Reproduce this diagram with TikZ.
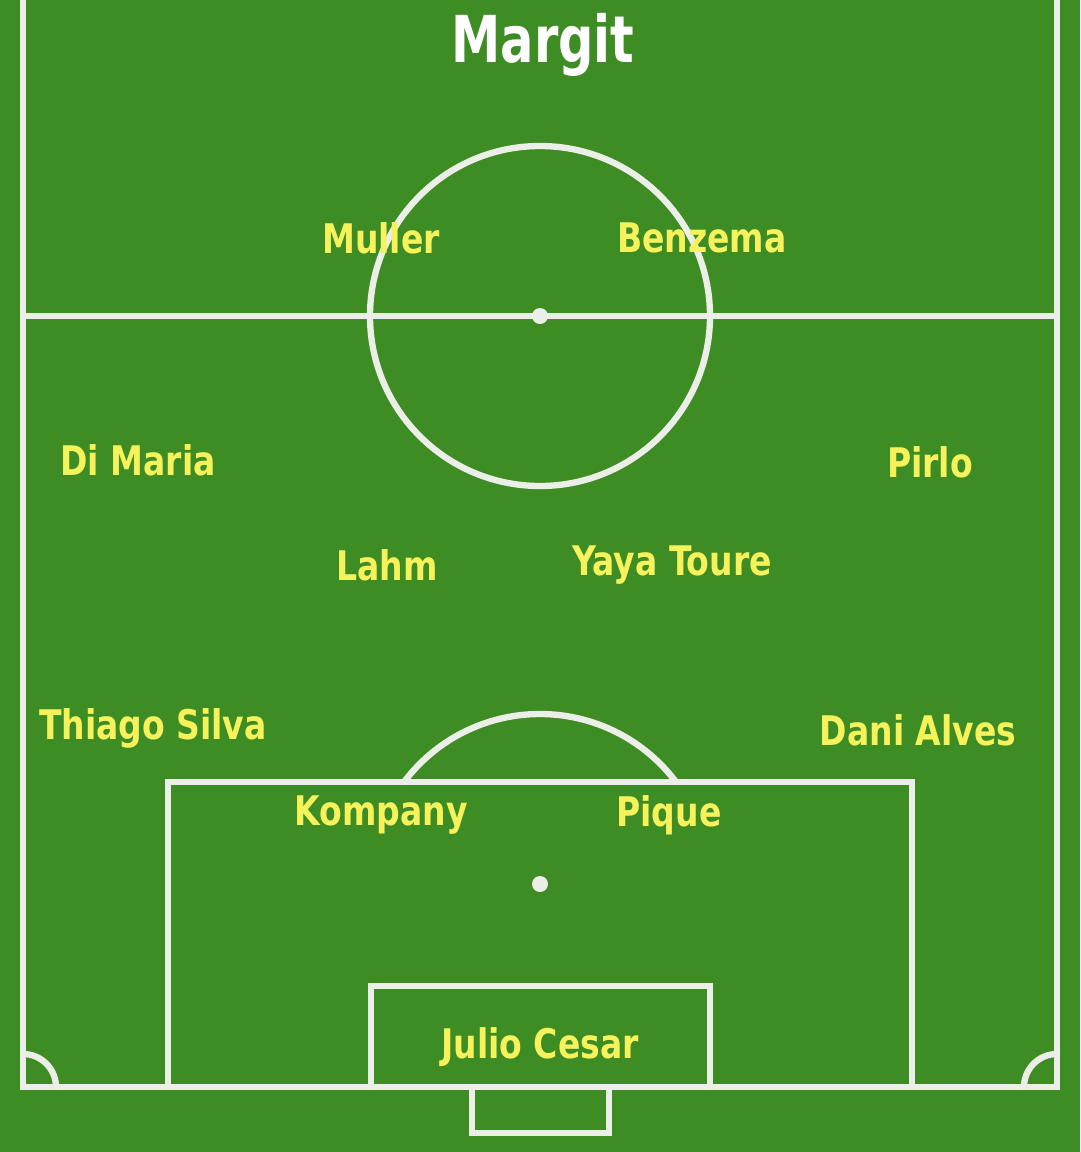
\documentclass[tikz,border=0pt]{standalone}
\usepackage{fontspec}
\usepackage{xcolor}
\usepackage{tikz}
\newfontfamily\namefont{DejaVu Sans Condensed}
\definecolor{grass}{RGB}{62,140,36}
\definecolor{chalk}{RGB}{236,238,232}
\definecolor{namecol}{RGB}{246,242,92}
\tikzset{
  pitchline/.style={chalk,line width=4.5,line cap=round},
  player/.style={font=\namefont\bfseries\fontsize{29}{29}\selectfont,text=namecol,xscale=0.9,inner sep=0pt},
  teamname/.style={font=\namefont\bfseries\fontsize{46}{46}\selectfont,text=white,xscale=0.85,inner sep=0pt}
}
\begin{document}
\begin{tikzpicture}[x=0.025cm,y=-0.025cm]
\fill[grass](0,0)rectangle(1080,1152);
\useasboundingbox(0,0)rectangle(1080,1152);
% touchlines, goal line, halfway line
\draw[pitchline](23,0)--(23,1087)--(1057,1087)--(1057,0);
\draw[pitchline](23,316)--(1057,316);
\draw[pitchline](540,316)circle[radius=170];
\fill[chalk](540,316)circle[radius=8];
% penalty area
\draw[pitchline](168,1087)--(168,782)--(912,782)--(912,1087);
\draw[pitchline](404,782)arc[start angle=216.87,end angle=323.13,radius=170];
\fill[chalk](540,884)circle[radius=8];
% goal area and goal
\draw[pitchline](371,1087)--(371,986)--(710,986)--(710,1087);
\draw[pitchline](472,1087)--(472,1133)--(609,1133)--(609,1087);
% corners
\draw[pitchline](23,1054)arc[start angle=270,end angle=360,radius=33];
\draw[pitchline](1024,1087)arc[start angle=180,end angle=270,radius=33];
% names
\node[teamname](team)at(543,45){Margit};
\node[player](muller)at(381,238){Muller};
\node[player](benzema)at(702,238){Benzema};
\node[player](dimaria)at(138,460){Di Maria};
\node[player](pirlo)at(930,462){Pirlo};
\node[player](lahm)at(387,565){Lahm};
\node[player](toure)at(672,565){Yaya Toure};
\node[player](silva)at(153,728){Thiago Silva};
\node[player](alves)at(918,730){Dani Alves};
\node[player](kompany)at(381,815){Kompany};
\node[player](pique)at(669,815){Pique};
\node[player](cesar)at(540,1047){Julio Cesar};
\end{tikzpicture}
\end{document}
